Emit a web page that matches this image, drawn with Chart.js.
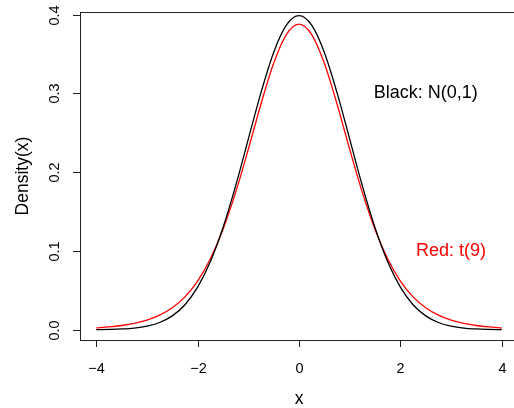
<!DOCTYPE html>
<html>
<head>
<meta charset="utf-8">
<script src="https://cdn.jsdelivr.net/npm/chart.js@4.4.1/dist/chart.umd.min.js"></script>
<style>
  html, body { margin: 0; padding: 0; background: #fff; overflow: hidden; }
  #wrap { width: 514px; height: 408px; overflow: hidden; }
  canvas { display: block; }
</style>
</head>
<body>
<div id="wrap"><canvas id="myChart" width="540" height="408"></canvas></div>
<script>
// valeurs (pas de 0.25)
const xs = [-4, -3.75, -3.5, -3.25, -3, -2.75, -2.5, -2.25, -2, -1.75, -1.5, -1.25, -1, -0.75, -0.5, -0.25,
            0, 0.25, 0.5, 0.75, 1, 1.25, 1.5, 1.75, 2, 2.25, 2.5, 2.75, 3, 3.25, 3.5, 3.75, 4];
const normalHalf = [0.3989, 0.3867, 0.3521, 0.3011, 0.2420, 0.1826, 0.1295, 0.0863, 0.0540,
                    0.0317, 0.0175, 0.0091, 0.0044, 0.0020, 0.0009, 0.0004, 0.0001];
const tHalf = [0.3880, 0.3748, 0.3384, 0.2866, 0.2291, 0.1743, 0.1272, 0.0897, 0.0617,
               0.0417, 0.0278, 0.0184, 0.0121, 0.0080, 0.0053, 0.0035, 0.0023];
// courbes symétriques
const normalDensity = normalHalf.slice(1).reverse().concat(normalHalf);
const tDensity = tHalf.slice(1).reverse().concat(tHalf);

const xTicks = [-4, -2, 0, 2, 4];
const yTicks = [0.0, 0.1, 0.2, 0.3, 0.4];
const yTickLabels = ['0.0', '0.1', '0.2', '0.3', '0.4'];

const font = '"Liberation Sans", Arial, Helvetica, sans-serif';

const rBase = {
    id: 'rBase',
    afterDraw(chart) {
        const ctx = chart.ctx;
        const a = chart.chartArea;
        const sx = chart.scales.x, sy = chart.scales.y;
        ctx.save();
        ctx.strokeStyle = '#222';
        ctx.lineWidth = 1;
        // cadre
        ctx.strokeRect(Math.round(a.left) + 0.5, Math.round(a.top) + 0.5,
            Math.round(a.right - a.left), Math.round(a.bottom - a.top));
        // graduations x
        ctx.fillStyle = '#000';
        ctx.font = '14.5px ' + font;
        ctx.textAlign = 'center';
        ctx.textBaseline = 'middle';
        xTicks.forEach(v => {
            const px = Math.round(sx.getPixelForValue(v)) + 0.5;
            ctx.beginPath();
            ctx.moveTo(px, a.bottom);
            ctx.lineTo(px, a.bottom + 7);
            ctx.stroke();
            ctx.fillText(v < 0 ? '\u2212' + Math.abs(v) : String(v), px, a.bottom + 29);
        });
        // graduations y
        yTicks.forEach((v, i) => {
            const py = Math.round(sy.getPixelForValue(v)) + 0.5;
            ctx.beginPath();
            ctx.moveTo(a.left, py);
            ctx.lineTo(a.left - 7, py);
            ctx.stroke();
            ctx.save();
            ctx.translate(a.left - 25, py);
            ctx.rotate(-Math.PI / 2);
            ctx.fillText(yTickLabels[i], 0, 0);
            ctx.restore();
        });
        // titres des axes
        ctx.font = '17.5px ' + font;
        ctx.fillText('x', sx.getPixelForValue(0), a.bottom + 59);
        ctx.save();
        ctx.translate(23, (a.top + a.bottom) / 2);
        ctx.rotate(-Math.PI / 2);
        ctx.fillText('Density(x)', 0, 0);
        ctx.restore();
        // légende en texte
        ctx.font = '18px ' + font;
        ctx.fillText('Black: N(0,1)', sx.getPixelForValue(2.5), sy.getPixelForValue(0.3));
        ctx.fillStyle = '#ff0000';
        ctx.fillText('Red: t(9)', sx.getPixelForValue(3), sy.getPixelForValue(0.1));
        ctx.restore();
    }
};

const config = {
    type: 'line',
    data: {
        labels: xs,
        datasets: [{
            label: 'N(0,1)',
            data: xs.map((x, i) => ({ x: x, y: normalDensity[i] })),
            borderColor: '#000000',
            borderWidth: 1.3,
            pointRadius: 0,
            fill: false,
            cubicInterpolationMode: 'monotone'
        }, {
            label: 't(9)',
            data: xs.map((x, i) => ({ x: x, y: tDensity[i] })),
            borderColor: '#ff0000',
            borderWidth: 1.3,
            pointRadius: 0,
            fill: false,
            cubicInterpolationMode: 'monotone'
        }]
    },
    options: {
        responsive: false,
        animation: false,
        layout: { padding: { left: 80, top: 12, right: 22, bottom: 68 } },
        scales: {
            x: { type: 'linear', min: -4.32, max: 4.32, display: false },
            y: { type: 'linear', min: -0.0131, max: 0.4034, display: false }
        },
        plugins: {
            legend: { display: false },
            tooltip: { enabled: false }
        }
    },
    plugins: [rBase]
};

let myChart = new Chart(document.getElementById('myChart'), config);
</script>
</body>
</html>
